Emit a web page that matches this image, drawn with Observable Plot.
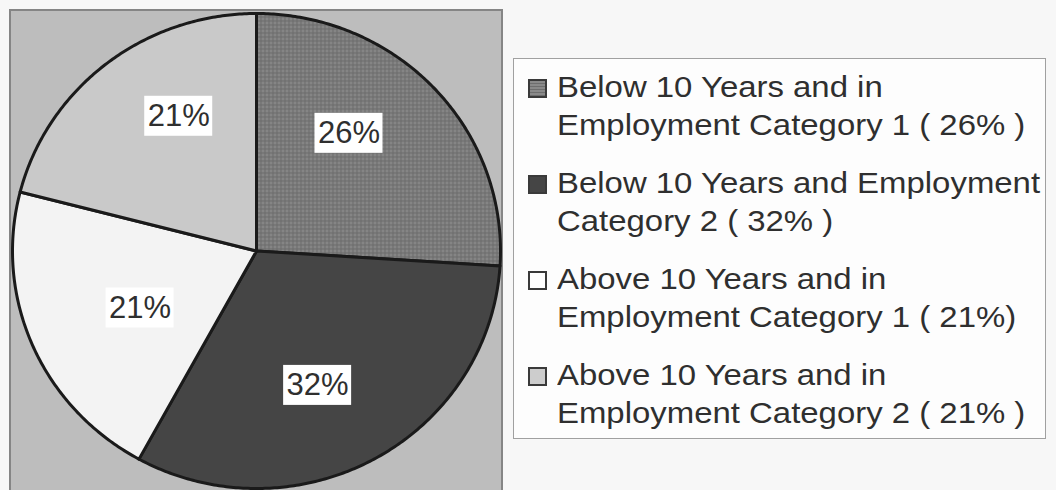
<!DOCTYPE html>
<html>
<head>
<meta charset="utf-8">
<script src="https://cdn.jsdelivr.net/npm/d3@7"></script>
<script src="https://cdn.jsdelivr.net/npm/@observablehq/plot@0.6"></script>
<style>
  html, body { margin: 0; padding: 0; background: #f7f7f7; }
  #wrap { position: relative; width: 1056px; height: 490px; overflow: hidden; font-family: "Liberation Sans", Arial, sans-serif; }
  #plotbox { position: absolute; left: 9px; top: 9px; width: 490px; height: 490px; background: #bdbdbd; border: 2px solid #858585; }
  #chart { position: absolute; left: 0; top: 0; }
  #legend { position: absolute; left: 513px; top: 58px; width: 533px; height: 381px; background: #fdfdfd; border: 1px solid #a0a0a0; box-sizing: border-box; padding-top: 9px; }
  .entry { position: relative; margin-bottom: 20px; height: 76px; }
  .sw { position: absolute; left: 14px; top: 11px; width: 15px; height: 15px; border: 2px solid #3a3a3a; }
  .lab { position: absolute; left: 43px; top: 0; font-size: 29px; line-height: 38px; color: #2f2f2f; white-space: pre; transform: scaleX(1.135); transform-origin: 0 0; }
</style>
</head>
<body>
<div id="wrap">
  <div id="plotbox"></div>
  <div id="chart"></div>
  <div id="legend"></div>
</div>
<script>
// ---- data ----
const categories = [
  "Below 10 Years, Category 1",
  "Below 10 Years, Category 2",
  "Above 10 Years, Category 1",
  "Above 10 Years, Category 2"
];
const shares = [26, 32, 21, 21];
const pieLabels = ["26%", "32%", "21%", "21%"];
const legendLabels = [
  "Below 10 Years and in\nEmployment Category 1 ( 26% )",
  "Below 10 Years and Employment\nCategory 2 ( 32% )",
  "Above 10 Years and in\nEmployment Category 1 ( 21%)",
  "Above 10 Years and in\nEmployment Category 2 ( 21% )"
];
const sliceColors = ["url(#hatch1)", "#454545", "#f3f3f3", "#c9c9c9"];
const swatchColors = ["#7a7a7a", "#454545", "#ffffff", "#cdcdcd"];

// ---- geometry from the data via d3.pie ----
const arcs = d3.pie().sort(null).value(d => d)(shares);
const slicePoints = [];
arcs.forEach((a, i) => {
  slicePoints.push({cat: categories[i], x: 0, y: 0});
  const n = Math.max(8, Math.ceil((a.endAngle - a.startAngle) / 0.01));
  for (let k = 0; k <= n; k++) {
    const t = a.startAngle + (a.endAngle - a.startAngle) * k / n;
    slicePoints.push({cat: categories[i], x: Math.sin(t), y: Math.cos(t)});
  }
});
const labelData = arcs.map((a, i) => {
  const m = (a.startAngle + a.endAngle) / 2;
  return {text: pieLabels[i], x: 0.52 * Math.sin(m), y: 0.68 * Math.cos(m) + 0.03};
});

const chart = Plot.plot({
  width: 1056,
  height: 490,
  margin: 0,
  style: {background: "transparent", overflow: "visible"},
  x: {domain: [-1, 1], range: [12, 500], axis: null},
  y: {domain: [-1, 1], range: [488, 13], axis: null},
  color: {domain: categories, range: sliceColors},
  marks: [
    Plot.line(slicePoints, {x: "x", y: "y", z: "cat", fill: "cat", stroke: "#1a1a1a", strokeWidth: 3, strokeLinejoin: "round", curve: "linear-closed"}),
    Plot.rect(labelData, {x1: "x", x2: "x", y1: "y", y2: "y", fill: "white", insetLeft: -34, insetRight: -34, insetTop: -20, insetBottom: -20}),
    Plot.text(labelData, {x: "x", y: "y", text: "text", fontSize: 31, fill: "#2f2f2f", fontFamily: "Liberation Sans, Arial, sans-serif"})
  ]
});

// crosshatch texture for the first slice
const defs = d3.select(chart).insert("defs", ":first-child");
const pat = defs.append("pattern").attr("id", "hatch1").attr("patternUnits", "userSpaceOnUse").attr("width", 4).attr("height", 4);
pat.append("rect").attr("width", 4).attr("height", 4).attr("fill", "#858585");
pat.append("path").attr("d", "M0 0.5H4M0.5 0V4").attr("stroke", "#6c6c6c").attr("stroke-width", 1);

document.getElementById("chart").appendChild(chart);

// legend
const legend = d3.select("#legend");
legendLabels.forEach((t, i) => {
  const e = legend.append("div").attr("class", "entry");
  const sw = e.append("div").attr("class", "sw").style("background", swatchColors[i]);
  if (i === 0) sw.style("background", "repeating-linear-gradient(0deg,#6e6e6e 0 1px,#8a8a8a 1px 3px)");
  e.append("div").attr("class", "lab").text(t);
});
</script>
</body>
</html>
